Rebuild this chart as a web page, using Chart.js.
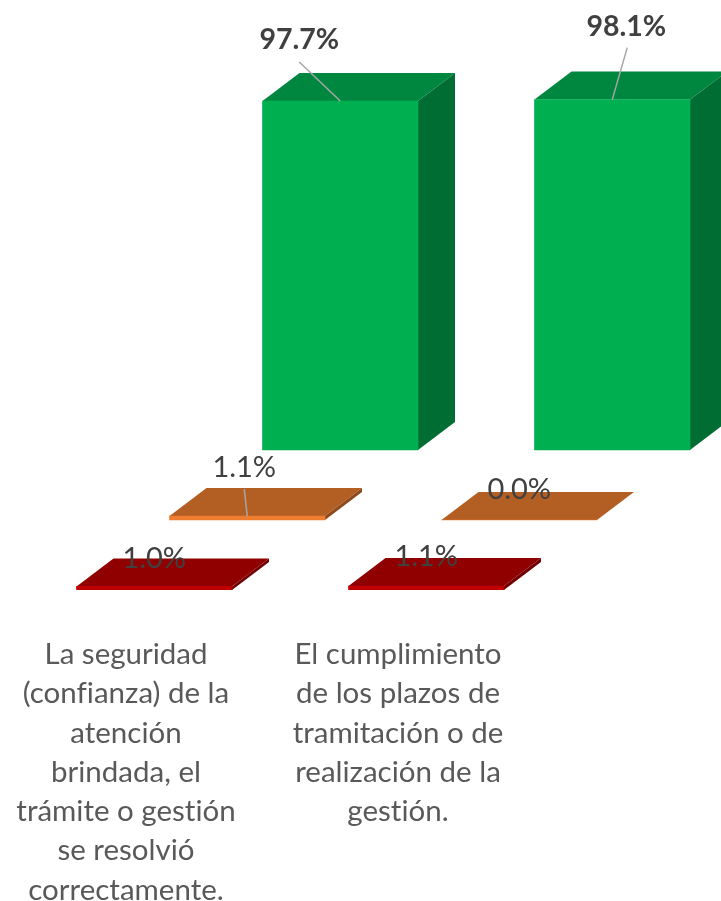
<!DOCTYPE html>
<html>
<head>
<meta charset="utf-8">
<style>
  html, body { margin: 0; padding: 0; background: #fff; }
  canvas { display: block; }
</style>
<script src="https://cdn.jsdelivr.net/npm/chart.js@4"></script>
</head>
<body>
<canvas id="chart" width="721" height="901"></canvas>
<script>
const categories = [
  ['La seguridad', '(confianza) de la', 'atención', 'brindada, el', 'trámite o gestión', 'se resolvió', 'correctamente.'],
  ['El cumplimiento', 'de los plazos de', 'tramitación o de', 'realización de la', 'gestión.']
];
const greenValues = [97.7, 98.1];
const orangeValues = [1.1, 0.0];
const redValues = [1.0, 1.1];

// px por unidad, a ojo de la imagen
const unitX = 272;
const unitY = 3.572;
const depthX = 37;
const depthY = 28;
const barSize = 155.5;

function xRange(centerFirst) {
  return { min: -centerFirst / unitX, max: (721 - centerFirst) / unitX };
}
function yRange(zeroPx) {
  return { min: (zeroPx - 590) / unitY, max: zeroPx / unitY };
}

const faceColors = [
  { top: '#900000', side: '#730000' },
  { top: '#B35F24', side: '#8E4A1C' },
  { top: '#00873F', side: '#006D32' }
];

// etiquetas: desplazamiento desde el centro superior de la barra y linea guia
const labelStyles = [
  [
    { dx: 0, dy: -28 },
    { dx: 0, dy: -29 }
  ],
  [
    { dx: -3, dy: -48, line: [-3, -27] },
    { dx: 0, dy: -30 }
  ],
  [
    { dx: -41, dy: -61, bold: true, line: [-41, -39] },
    { dx: 14, dy: -73, bold: true, line: [15, -52] }
  ]
];

const depthPlugin = {
  id: 'depth',
  beforeDraw(chart) {
    chart.ctx.textRendering = 'optimizeSpeed';
  },
  beforeDatasetDraw(chart, args) {
    const ctx = chart.ctx;
    const colors = faceColors[args.index];
    args.meta.data.forEach(bar => {
      const l = bar.x - bar.width / 2;
      const r = bar.x + bar.width / 2;
      ctx.save();
      ctx.fillStyle = colors.top;
      ctx.beginPath();
      ctx.moveTo(l, bar.y);
      ctx.lineTo(l + depthX, bar.y - depthY);
      ctx.lineTo(r + depthX, bar.y - depthY);
      ctx.lineTo(r, bar.y);
      ctx.closePath();
      ctx.fill();
      ctx.fillStyle = colors.side;
      ctx.beginPath();
      ctx.moveTo(r, bar.y);
      ctx.lineTo(r + depthX, bar.y - depthY);
      ctx.lineTo(r + depthX, bar.base - depthY);
      ctx.lineTo(r, bar.base);
      ctx.closePath();
      ctx.fill();
      ctx.restore();
    });
  },
  afterDatasetsDraw(chart) {
    const ctx = chart.ctx;
    chart.data.datasets.forEach((ds, i) => {
      chart.getDatasetMeta(i).data.forEach((bar, j) => {
        const s = labelStyles[i][j];
        ctx.save();
        if (s.line) {
          ctx.strokeStyle = '#A6A6A6';
          ctx.lineWidth = 1.5;
          ctx.beginPath();
          ctx.moveTo(bar.x + s.line[0], bar.y + s.line[1]);
          ctx.lineTo(bar.x, bar.y);
          ctx.stroke();
        }
        ctx.fillStyle = '#404040';
        ctx.font = (s.bold ? 'bold 28.5px' : '29px') + ' Lato';
        ctx.textAlign = 'center';
        ctx.textBaseline = 'middle';
        ctx.fillText(ds.data[j].toFixed(1) + '%', bar.x + s.dx, bar.y + s.dy);
        ctx.restore();
      });
    });
  }
};

new Chart(document.getElementById('chart'), {
  type: 'bar',
  data: {
    labels: [0, 1],
    datasets: [
      { label: 'Red', data: redValues, backgroundColor: '#C00000', xAxisID: 'xRed', yAxisID: 'yRed', barThickness: barSize, grouped: false },
      { label: 'Orange', data: orangeValues, backgroundColor: '#ED7D31', xAxisID: 'xOrange', yAxisID: 'yOrange', barThickness: barSize, grouped: false },
      { label: 'Green', data: greenValues, backgroundColor: '#00B050', xAxisID: 'xGreen', yAxisID: 'yGreen', barThickness: barSize, grouped: false }
    ]
  },
  plugins: [depthPlugin],
  options: {
    responsive: false,
    animation: false,
    layout: { padding: 0 },
    plugins: { legend: { display: false }, tooltip: { enabled: false } },
    scales: {
      xLabels: {
        type: 'linear',
        position: 'bottom',
        offset: false,
        ...xRange(126),
        grid: { display: false },
        border: { display: false },
        afterFit(scale) {
          scale.height = 311;
          // sin esto la etiqueta ancha empuja el area del grafico
          scale.paddingLeft = 0;
          scale.paddingRight = 0;
        },
        ticks: {
          stepSize: 1,
          includeBounds: false,
          autoSkip: false,
          maxRotation: 0,
          padding: 37,
          color: '#595959',
          font: { family: 'Lato', size: 29.5, lineHeight: 1.33 },
          callback: value => categories[value] || ''
        }
      },
      xRed: { type: 'linear', display: false, offset: false, ...xRange(154.25) },
      xOrange: { type: 'linear', display: false, offset: false, ...xRange(247.25) },
      xGreen: { type: 'linear', display: false, offset: false, ...xRange(340.25) },
      yRed: { display: false, ...yRange(590) },
      yOrange: { display: false, ...yRange(520) },
      yGreen: { display: false, ...yRange(450) }
    }
  }
});
</script>
</body>
</html>
